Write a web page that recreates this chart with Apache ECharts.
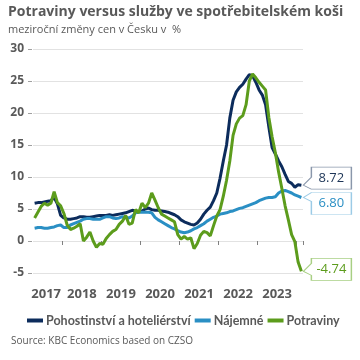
<!DOCTYPE html>
<html><head><meta charset="utf-8">
<script src="https://cdn.jsdelivr.net/npm/echarts@6/dist/echarts.min.js"></script>
<style>html,body{margin:0;padding:0;background:#fff}#c{width:360px;height:360px}</style>
</head><body><div id="c"></div>
<script>
// monthly categories 2017-04 .. 2024-02
const months = [];
for (let y = 2017; y <= 2024; y++) for (let m = 1; m <= 12; m++) {
  if (y === 2017 && m < 4) continue;
  if (y === 2024 && m > 2) break;
  months.push(y + '-' + String(m).padStart(2, '0'));
}
const seriesNames = ['Pohostinství a hoteliérství', 'Nájemné', 'Potraviny'];
const pohostinstvi = [
  5.9, 6.0, 6.0, 6.1, 6.2, 6.3, 6.8, 5.8, 4.0, 3.6,
  3.4, 3.4, 3.5, 3.6, 3.8, 3.8, 3.7, 3.7, 3.8, 3.9,
  4.0, 4.0, 4.0, 4.1, 4.0, 4.1, 4.2, 4.3, 4.4, 4.6,
  4.8, 4.7, 4.6, 4.7, 5.0, 5.15, 4.9, 4.8, 4.8, 4.7,
  4.6, 4.5, 4.3, 4.1, 3.8, 3.3, 3.0, 2.8, 2.6, 2.5,
  2.8, 3.4, 4.2, 4.8, 5.3, 6.3, 7.5, 9.8, 12.5, 15.0,
  19.2, 22.0, 23.3, 24.0, 24.5, 25.3, 26.0, 25.8, 24.8, 23.6,
  22.8, 21.3, 17.8, 14.6, 13.6, 12.5, 11.6, 10.4, 9.3, 9.0,
  8.4, 8.8, 8.72
];
const najemne = [
  2.0, 2.1, 2.1, 2.0, 2.0, 2.1, 2.2, 2.4, 2.5, 2.1,
  2.1, 2.5, 2.7, 2.9, 3.1, 3.4, 3.5, 3.5, 3.4, 3.4,
  3.4, 3.6, 3.8, 3.8, 3.6, 3.5, 3.6, 3.8, 3.7, 3.6,
  3.9, 4.4, 4.5, 4.5, 4.5, 4.5, 4.4, 3.7, 3.3, 3.0,
  2.7, 2.4, 2.1, 1.9, 1.6, 1.4, 1.3, 1.4, 1.6, 1.9,
  2.1, 2.4, 2.7, 3.1, 3.4, 3.7, 3.9, 4.2, 4.3, 4.4,
  4.6, 4.7, 4.9, 5.1, 5.2, 5.4, 5.6, 5.8, 6.0, 6.3,
  6.5, 6.7, 6.8, 6.8, 6.9, 7.5, 7.8, 7.9, 7.7, 7.5,
  7.2, 7.0, 6.80
];
const potraviny = [
  3.6, 4.5, 5.4, 5.9, 5.6, 5.9, 7.7, 6.0, 5.5, 4.3,
  2.5, 1.8, 2.0, 2.3, 2.7, 0.0, 0.6, 1.4, 0.0, -1.0,
  -0.4, -0.5, 0.4, 1.0, 1.5, 1.8, 2.6, 3.1, 4.0, 2.6,
  2.8, 4.9, 4.4, 5.9, 5.2, 5.9, 7.5, 6.4, 5.2, 4.2,
  3.9, 3.6, 3.3, 3.0, 1.0, 0.3, 0.7, 0.3, 0.5, -1.2,
  -0.4, 0.9, 1.5, 1.3, 0.8, 2.4, 3.9, 4.9, 7.0, 9.5,
  12.5, 16.5, 18.3, 19.2, 19.6, 21.3, 25.0, 26.1, 25.5, 24.8,
  24.2, 23.6, 19.3, 16.3, 13.8, 10.8, 8.2, 5.5, 3.3, 1.0,
  -0.1, -3.3, -4.74
];
const yMin = -5, yMax = 30, yStep = 5;

const FONT = 'Open Sans';
const GRAY = '#595959';
const colors = ['#0c2c5c', '#2a8fc4', '#5c9c1c'];
const boxBorders = ['#8a97ab', '#9ccbe6', '#a8cf84'];
const textColors = ['#1d3557', '#2a8fc4', '#5c9c1c'];
const tipPos = [18, 5, 13]; // vertical position of callout tip inside box

function callout(tipY) {
  const H = 22, top = Math.max(0, tipY - 8), bot = Math.min(H, tipY + 4);
  return 'path://M0,' + tipY + ' L8,' + top + ' L8,0 L48,0 L48,' + H + ' L8,' + H + ' L8,' + bot + ' Z';
}

const allData = [pohostinstvi, najemne, potraviny];
const series = allData.map((d, k) => ({
  name: seriesNames[k],
  type: 'line',
  data: d,
  symbol: 'none',
  lineStyle: { width: 3, color: colors[k] },
  itemStyle: { color: colors[k] },
  z: 2 + k,
  markPoint: {
    symbol: callout(tipPos[k]),
    symbolSize: [48, 22],
    symbolKeepAspect: false,
    symbolOffset: [26, 11 - tipPos[k]],
    itemStyle: { color: '#fff', borderColor: boxBorders[k], borderWidth: 1 },
    label: {
      show: true, position: 'inside', offset: [4, 0],
      formatter: p => Number(p.value).toFixed(2),
      color: textColors[k], fontFamily: FONT, fontSize: 13
    },
    data: [{ coord: [months[months.length - 1], d[d.length - 1]], value: d[d.length - 1] }]
  }
}));

const chart = echarts.init(document.getElementById('c'), null, { renderer: 'canvas' });
chart.setOption({
  animation: false,
  color: colors,
  title: {
    text: 'Potraviny versus služby ve spotřebitelském koši',
    subtext: 'meziroční změny cen v Česku v  %',
    left: 8, top: 5, padding: 0, itemGap: 5,
    textStyle: { fontFamily: FONT, fontSize: 14, fontWeight: 'bold', color: GRAY },
    subtextStyle: { fontFamily: FONT, fontSize: 11, color: GRAY }
  },
  grid: { left: 33, right: 57, top: 49, bottom: 87 },
  xAxis: {
    type: 'category', data: months, boundaryGap: true, offset: 9,
    axisLine: { show: false },
    axisTick: { show: true, length: 4, lineStyle: { color: '#808080' },
      interval: (i, v) => v.endsWith('-01') },
    axisLabel: {
      interval: (i, v) => v === '2017-08' || (v.endsWith('-07') && v !== '2017-07'),
      formatter: v => v.slice(0, 4), margin: 6, padding: [0, 3, 0, 0],
      fontFamily: FONT, fontSize: 13, fontWeight: 'bold', color: GRAY
    },
    splitLine: { show: false }
  },
  yAxis: {
    type: 'value', min: yMin, max: yMax, interval: yStep, offset: 1,
    axisLine: { show: false },
    axisTick: { show: true, length: 4, lineStyle: { color: '#a0a0a0' } },
    axisLabel: { margin: 8, fontFamily: FONT, fontSize: 12, fontWeight: 'bold', color: GRAY },
    splitLine: { lineStyle: { color: '#e2e2e2', width: 1 } }
  },
  legend: {
    top: 309, left: 22, width: 340, icon: 'rect', itemWidth: 16, itemHeight: 4, itemGap: 4,
    textStyle: { fontFamily: 'Lato', fontSize: 12.5, fontWeight: 'bold', color: GRAY, padding: [0, 0, 0, -2] },
    data: seriesNames
  },
  graphic: [{
    type: 'text', left: 11, top: 336,
    style: { text: 'Source: KBC Economics based on CZSO', fontFamily: FONT, fontSize: 10, fill: GRAY }
  }],
  series: series
});
</script>
</body></html>
